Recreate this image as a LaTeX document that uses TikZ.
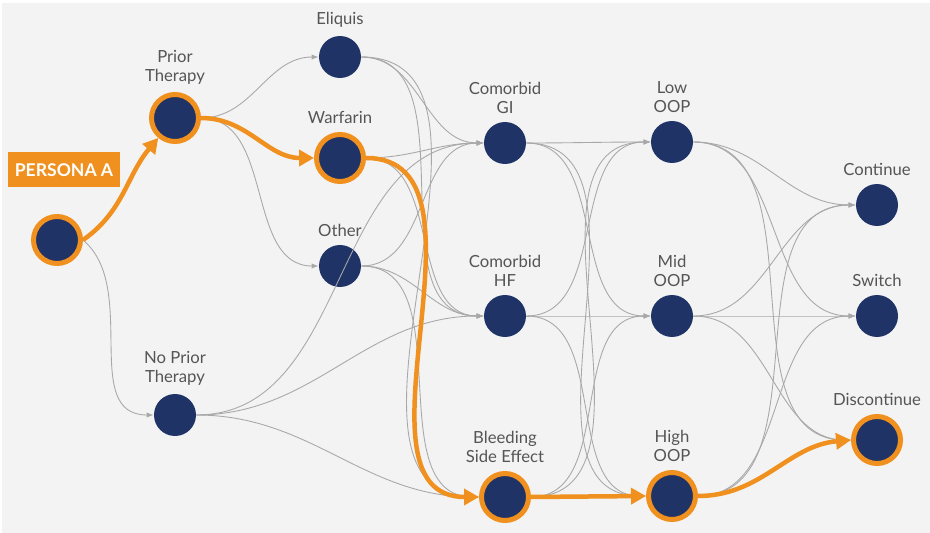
\documentclass[tikz,border=0pt]{standalone}
\usepackage{fontspec}
\setmainfont{Lato}
\usepackage{tikz}
\usetikzlibrary{arrows.meta}
\definecolor{navy}{HTML}{1F3366}
\definecolor{pharmorange}{HTML}{F0901E}
\definecolor{bggray}{HTML}{F3F3F3}
\definecolor{edgegray}{HTML}{A8A8A8}
\definecolor{labgray}{HTML}{555555}
\tikzset{>=latex}
\tikzset{
  dot/.style={circle,fill=navy,inner sep=0pt,minimum size=0.84cm,anchor=center},
  hidot/.style={circle,fill=navy,draw=pharmorange,line width=0.1cm,inner sep=0pt,
    minimum size=0.94cm,anchor=center},
  lab/.style={align=center,text=labgray,font=\fontsize{9.5}{10.8}\selectfont,
    label distance=1pt},
  flow/.style={draw=edgegray,line width=0.5pt,-{Latex[length=4pt,width=3pt]}},
  path/.style={draw=pharmorange,line width=0.09cm,-{Triangle[length=0.3cm,width=0.32cm]}}
}

\begin{document}
\begin{tikzpicture}[x=0.02cm,y=-0.02cm]
      \fill[white] (0,0) rectangle (930,533);
      \fill[bggray] (2,3) rectangle (930,533);
      \useasboundingbox (0,0) rectangle (930,533);

      \node [hidot] (start) at (57,240) {};

      \node [hidot,label={[lab]above:Prior\\Therapy}] (prior) at (175,118) {};
      \node [dot,label={[lab]above:No Prior\\Therapy}] (noprior) at (175,415) {};

      \node [dot,label={[lab]above:Eliquis}] (eliquis) at (340,57) {};
      \node [hidot,label={[lab]above:Warfarin}] (warfarin) at (340,158) {};
      \node [dot,label={[lab]above:Other}] (other) at (340,266) {};

      \node [dot,label={[lab]above:Comorbid\\GI}] (gi) at (505,143) {};
      \node [dot,label={[lab]above:Comorbid\\HF}] (hf) at (505,316) {};
      \node [hidot,label={[lab]above:Bleeding\\Side Effect}] (bleed) at (505,497) {};

      \node [dot,label={[lab]above:Low\\OOP}] (low) at (672,142) {};
      \node [dot,label={[lab]above:Mid\\OOP}] (mid) at (672,316) {};
      \node [hidot,label={[lab]above:High\\OOP}] (high) at (672,496) {};

      \node [dot,label={[lab]above:Continue}] (cont) at (877,205) {};
      \node [dot,label={[lab]above:Switch}] (switch) at (877,316) {};
      \node [hidot,label={[lab]above:Discontinue}] (discont) at (877,440) {};

      % grey flows
      \draw [flow] (start.east) to[out=-40,in=180] (noprior.west);
      \draw [flow] (prior.east) to[out=0,in=180] (eliquis.west);
      \draw [flow] (prior.east) to[out=0,in=180] (other.west);

      \draw [flow] (eliquis.east) to[out=0,in=180] (gi.west);
      \draw [flow] (eliquis.east) to[out=0,in=180] (hf.west);
      \draw [flow] (eliquis.east) to[out=0,in=180] (bleed.west);
      \draw [flow] (warfarin.east) to[out=0,in=180] (gi.west);
      \draw [flow] (warfarin.east) to[out=0,in=180] (hf.west);
      \draw [flow] (other.east) to[out=0,in=180] (gi.west);
      \draw [flow] (other.east) to[out=0,in=180] (hf.west);
      \draw [flow] (other.east) to[out=0,in=180] (bleed.west);
      \draw [flow] (noprior.east) to[out=0,in=180] (gi.west);
      \draw [flow] (noprior.east) to[out=0,in=180] (hf.west);
      \draw [flow] (noprior.east) to[out=0,in=180] (bleed.west);

      \draw [flow] (gi.east) to[out=0,in=180] (low.west);
      \draw [flow] (gi.east) to[out=0,in=180] (mid.west);
      \draw [flow] (gi.east) to[out=0,in=180] (high.west);
      \draw [flow] (hf.east) to[out=0,in=180] (low.west);
      \draw [flow] (hf.east) to[out=0,in=180] (mid.west);
      \draw [flow] (hf.east) to[out=0,in=180] (high.west);
      \draw [flow] (bleed.east) to[out=0,in=180] (low.west);
      \draw [flow] (bleed.east) to[out=0,in=180] (mid.west);

      \draw [flow] (low.east) to[out=0,in=180] (cont.west);
      \draw [flow] (low.east) to[out=0,in=180] (switch.west);
      \draw [flow] (low.east) to[out=0,in=180] (discont.west);
      \draw [flow] (mid.east) to[out=0,in=180] (cont.west);
      \draw [flow] (mid.east) to[out=0,in=180] (switch.west);
      \draw [flow] (mid.east) to[out=0,in=180] (discont.west);
      \draw [flow] (high.east) to[out=0,in=180] (cont.west);
      \draw [flow] (high.east) to[out=0,in=180] (switch.west);

      % persona path
      \node [fill=pharmorange,text=white,font=\bfseries\fontsize{10}{12}\selectfont,
        minimum width=2.24cm,minimum height=0.7cm,inner sep=0pt] (persona) at (64,170) {PERSONA A};

      \draw [path] (start.east) to[out=35,in=230] (prior);
      \draw [path] (prior.east) to[out=0,in=180] (warfarin.west);
      \draw [path] (warfarin.east) to[out=0,in=180] (bleed.west);
      \draw [path] (bleed.east) -- (high.west);
      \draw [path] (high.east) to[out=0,in=185] (discont.west);
  \end{tikzpicture}
\end{document}
